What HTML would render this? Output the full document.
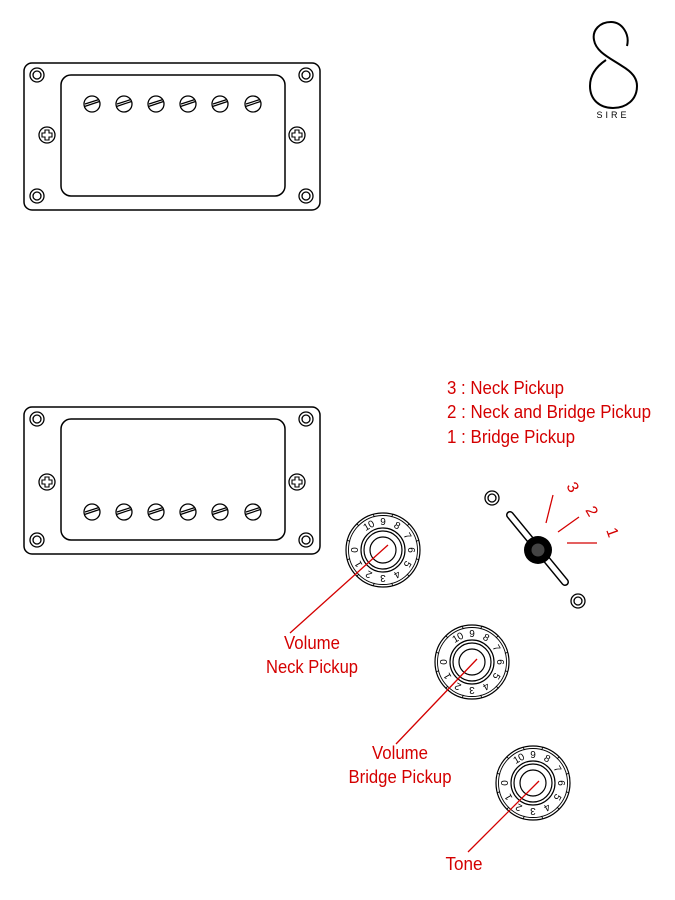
<!DOCTYPE html>
<html><head><meta charset="utf-8"><style>html,body{margin:0;padding:0;background:#fff}svg{display:block}</style></head>
<body>
<svg width="675" height="900" viewBox="0 0 675 900" xmlns="http://www.w3.org/2000/svg" font-family="Liberation Sans, sans-serif">
<defs>
<g id="cs"><circle r="7" fill="#fff" stroke="#000" stroke-width="1.3"/><circle r="4" fill="none" stroke="#000" stroke-width="1.3"/></g>
<g id="ss"><circle r="8" fill="#fff" stroke="#000" stroke-width="1.3"/><path d="M-2,-5 h4 v3 h3 v4 h-3 v3 h-4 v-3 h-3 v-4 h3z" fill="none" stroke="#000" stroke-width="1.1"/></g>
<g id="pp"><circle r="8" fill="#fff" stroke="#000" stroke-width="1.3"/><line x1="-7.5" y1="2.5" x2="7.5" y2="-2.5" stroke="#000" stroke-width="1.2"/><line x1="-7" y1="0" x2="7" y2="-4.5" stroke="#000" stroke-width="1.2"/></g>
<g id="tk" stroke="#000" stroke-width="0.9" fill="none">
<circle r="37" stroke-width="1.2"/><circle r="34.5"/>
<circle r="22" stroke-width="1.2"/><circle r="19" stroke-width="1.2"/><circle r="13" stroke-width="1.2"/>
</g>
</defs>
<rect x="24" y="63" width="296" height="147" rx="8" fill="none" stroke="#000" stroke-width="1.5"/>
<rect x="61" y="75" width="224" height="121" rx="10" fill="none" stroke="#000" stroke-width="1.5"/>
<use href="#cs" x="37" y="75"/><use href="#cs" x="306" y="75"/><use href="#cs" x="37" y="196"/><use href="#cs" x="306" y="196"/>
<use href="#ss" x="47" y="135"/><use href="#ss" x="297" y="135"/>
<use href="#pp" x="92" y="104"/><use href="#pp" x="124" y="104"/><use href="#pp" x="156" y="104"/><use href="#pp" x="188" y="104"/><use href="#pp" x="220" y="104"/><use href="#pp" x="253" y="104"/>
<rect x="24" y="407" width="296" height="147" rx="8" fill="none" stroke="#000" stroke-width="1.5"/>
<rect x="61" y="419" width="224" height="121" rx="10" fill="none" stroke="#000" stroke-width="1.5"/>
<use href="#cs" x="37" y="419"/><use href="#cs" x="306" y="419"/><use href="#cs" x="37" y="540"/><use href="#cs" x="306" y="540"/>
<use href="#ss" x="47" y="482"/><use href="#ss" x="297" y="482"/>
<use href="#pp" x="92" y="512"/><use href="#pp" x="124" y="512"/><use href="#pp" x="156" y="512"/><use href="#pp" x="188" y="512"/><use href="#pp" x="220" y="512"/><use href="#pp" x="253" y="512"/>
<path d="M627,46 C630,34 622,22 611,22 C600,22 592,30 594,40 C596,52 610,58 622,66 C632,72 637,78 637,86 C637,100 626,108 613,108 C600,108 590,100 590,86 C590,74 597,66 606,60" fill="none" stroke="#000" stroke-width="2"/>
<text x="613" y="118" font-size="9" text-anchor="middle" letter-spacing="3">SIRE</text>
<g fill="#d40000" font-size="18">
<text x="447" y="394" textLength="117" lengthAdjust="spacingAndGlyphs">3 : Neck Pickup</text>
<text x="447" y="418" textLength="204" lengthAdjust="spacingAndGlyphs">2 : Neck and Bridge Pickup</text>
<text x="447" y="443" textLength="128" lengthAdjust="spacingAndGlyphs">1 : Bridge Pickup</text>
</g>
<use href="#cs" x="492" y="498"/><use href="#cs" x="578" y="601"/>
<line x1="510" y1="515" x2="565" y2="582" stroke="#000" stroke-width="8" stroke-linecap="round"/>
<line x1="510" y1="515" x2="565" y2="582" stroke="#fff" stroke-width="5" stroke-linecap="round"/>
<circle cx="538" cy="550" r="14" fill="#000"/><circle cx="538" cy="550" r="6.5" fill="#444"/>
<g stroke="#d40000" stroke-width="1.3">
<line x1="546" y1="523" x2="553" y2="495"/><line x1="558" y1="532" x2="579" y2="517"/><line x1="567" y1="543" x2="597" y2="543"/>
</g>
<g fill="#d40000" font-size="16">
<text transform="translate(566,486) rotate(60)">3</text>
<text transform="translate(585,510) rotate(60)">2</text>
<text transform="translate(606,530) rotate(70)">1</text>
</g>
<g transform="translate(383,550)">
<use href="#tk"/>
<g stroke="#000" stroke-width="0.9">
<line x1="0" y1="-34" x2="0" y2="-37" transform="rotate(15)"/><line x1="0" y1="-34" x2="0" y2="-37" transform="rotate(45)"/><line x1="0" y1="-34" x2="0" y2="-37" transform="rotate(75)"/><line x1="0" y1="-34" x2="0" y2="-37" transform="rotate(105)"/><line x1="0" y1="-34" x2="0" y2="-37" transform="rotate(135)"/><line x1="0" y1="-34" x2="0" y2="-37" transform="rotate(165)"/><line x1="0" y1="-34" x2="0" y2="-37" transform="rotate(195)"/><line x1="0" y1="-34" x2="0" y2="-37" transform="rotate(225)"/><line x1="0" y1="-34" x2="0" y2="-37" transform="rotate(255)"/><line x1="0" y1="-34" x2="0" y2="-37" transform="rotate(285)"/><line x1="0" y1="-34" x2="0" y2="-37" transform="rotate(315)"/><line x1="0" y1="-34" x2="0" y2="-37" transform="rotate(345)"/>
</g>
<g font-size="10" text-anchor="middle" fill="#000">
<text transform="rotate(270) translate(0,-25)">0</text><text transform="rotate(240) translate(0,-25)">1</text><text transform="rotate(210) translate(0,-25)">2</text><text transform="rotate(180) translate(0,-25)">3</text><text transform="rotate(150) translate(0,-25)">4</text><text transform="rotate(120) translate(0,-25)">5</text><text transform="rotate(90) translate(0,-25)">6</text><text transform="rotate(60) translate(0,-25)">7</text><text transform="rotate(30) translate(0,-25)">8</text><text transform="rotate(0) translate(0,-25)">9</text><text transform="rotate(-30) translate(0,-25)">10</text>
</g>
</g>
<g transform="translate(472,662)">
<use href="#tk"/>
<g stroke="#000" stroke-width="0.9">
<line x1="0" y1="-34" x2="0" y2="-37" transform="rotate(15)"/><line x1="0" y1="-34" x2="0" y2="-37" transform="rotate(45)"/><line x1="0" y1="-34" x2="0" y2="-37" transform="rotate(75)"/><line x1="0" y1="-34" x2="0" y2="-37" transform="rotate(105)"/><line x1="0" y1="-34" x2="0" y2="-37" transform="rotate(135)"/><line x1="0" y1="-34" x2="0" y2="-37" transform="rotate(165)"/><line x1="0" y1="-34" x2="0" y2="-37" transform="rotate(195)"/><line x1="0" y1="-34" x2="0" y2="-37" transform="rotate(225)"/><line x1="0" y1="-34" x2="0" y2="-37" transform="rotate(255)"/><line x1="0" y1="-34" x2="0" y2="-37" transform="rotate(285)"/><line x1="0" y1="-34" x2="0" y2="-37" transform="rotate(315)"/><line x1="0" y1="-34" x2="0" y2="-37" transform="rotate(345)"/>
</g>
<g font-size="10" text-anchor="middle" fill="#000">
<text transform="rotate(270) translate(0,-25)">0</text><text transform="rotate(240) translate(0,-25)">1</text><text transform="rotate(210) translate(0,-25)">2</text><text transform="rotate(180) translate(0,-25)">3</text><text transform="rotate(150) translate(0,-25)">4</text><text transform="rotate(120) translate(0,-25)">5</text><text transform="rotate(90) translate(0,-25)">6</text><text transform="rotate(60) translate(0,-25)">7</text><text transform="rotate(30) translate(0,-25)">8</text><text transform="rotate(0) translate(0,-25)">9</text><text transform="rotate(-30) translate(0,-25)">10</text>
</g>
</g>
<g transform="translate(533,783)">
<use href="#tk"/>
<g stroke="#000" stroke-width="0.9">
<line x1="0" y1="-34" x2="0" y2="-37" transform="rotate(15)"/><line x1="0" y1="-34" x2="0" y2="-37" transform="rotate(45)"/><line x1="0" y1="-34" x2="0" y2="-37" transform="rotate(75)"/><line x1="0" y1="-34" x2="0" y2="-37" transform="rotate(105)"/><line x1="0" y1="-34" x2="0" y2="-37" transform="rotate(135)"/><line x1="0" y1="-34" x2="0" y2="-37" transform="rotate(165)"/><line x1="0" y1="-34" x2="0" y2="-37" transform="rotate(195)"/><line x1="0" y1="-34" x2="0" y2="-37" transform="rotate(225)"/><line x1="0" y1="-34" x2="0" y2="-37" transform="rotate(255)"/><line x1="0" y1="-34" x2="0" y2="-37" transform="rotate(285)"/><line x1="0" y1="-34" x2="0" y2="-37" transform="rotate(315)"/><line x1="0" y1="-34" x2="0" y2="-37" transform="rotate(345)"/>
</g>
<g font-size="10" text-anchor="middle" fill="#000">
<text transform="rotate(270) translate(0,-25)">0</text><text transform="rotate(240) translate(0,-25)">1</text><text transform="rotate(210) translate(0,-25)">2</text><text transform="rotate(180) translate(0,-25)">3</text><text transform="rotate(150) translate(0,-25)">4</text><text transform="rotate(120) translate(0,-25)">5</text><text transform="rotate(90) translate(0,-25)">6</text><text transform="rotate(60) translate(0,-25)">7</text><text transform="rotate(30) translate(0,-25)">8</text><text transform="rotate(0) translate(0,-25)">9</text><text transform="rotate(-30) translate(0,-25)">10</text>
</g>
</g>
<g stroke="#d40000" stroke-width="1.3">
<line x1="388" y1="545" x2="290" y2="633"/>
<line x1="477" y1="659" x2="396" y2="744"/>
<line x1="539" y1="781" x2="468" y2="852"/>
</g>
<g fill="#d40000" font-size="18" text-anchor="middle">
<text x="312" y="649" textLength="56" lengthAdjust="spacingAndGlyphs">Volume</text>
<text x="312" y="673" textLength="92" lengthAdjust="spacingAndGlyphs">Neck Pickup</text>
<text x="400" y="759" textLength="56" lengthAdjust="spacingAndGlyphs">Volume</text>
<text x="400" y="783" textLength="103" lengthAdjust="spacingAndGlyphs">Bridge Pickup</text>
<text x="464" y="870" textLength="37" lengthAdjust="spacingAndGlyphs">Tone</text>
</g>
</svg>
</body></html>
